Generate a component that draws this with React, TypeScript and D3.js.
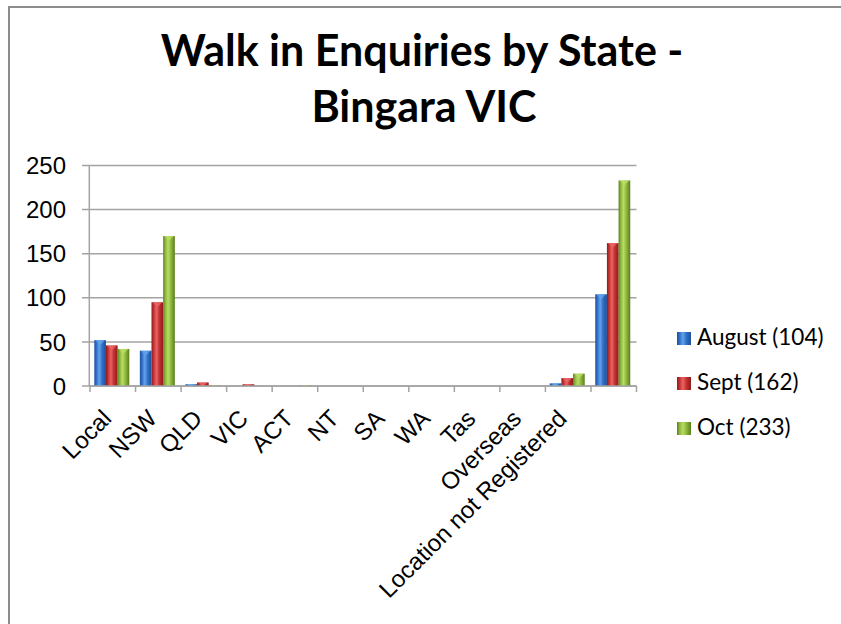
import React from 'react'
import * as d3 from 'd3'

// category labels (last group is the unlabeled totals column)
const categories = ['Local', 'NSW', 'QLD', 'VIC', 'ACT', 'NT', 'SA', 'WA', 'Tas', 'Overseas', 'Location not Registered', '']
const august = [52, 40, 2, 0, 0, 0, 0, 0, 0, 0, 3, 104]
const sept = [46, 95, 4, 2, 0, 0, 0, 0, 0, 0, 9, 162]
const oct = [42, 170, 1, 0, 1, 0, 0, 0, 0, 0, 14, 233]
const seriesNames = ['August (104)', 'Sept (162)', 'Oct (233)']
const yTicks = [0, 50, 100, 150, 200, 250]

const W = 841
const H = 624

// dark edge, base, highlight
const palettes = [
  ['#1d4f9c', '#2f6fc6', '#63a2ea'],
  ['#8c1c1c', '#c42f2f', '#e86464'],
  ['#5b7d1f', '#8cb63c', '#b8dc64'],
]

const App = () => {
  const series = [august, sept, oct]
  const idx = categories.map((_, i) => i)

  const x = d3.scaleBand<number>().domain(idx).range([90, 636.5])
  const x1 = d3.scaleBand<number>().domain([0, 1, 2]).range([4.3, 39.3])
  const y = d3.scaleLinear().domain([0, 250]).range([386, 165.5])

  const axisFont = '"Liberation Sans", Arial, sans-serif'
  const gridColor = '#a3a3a3'

  return (
    <div style={{ position: 'absolute', left: 0, top: 0, background: '#fff' }}>
      <svg width={W} height={H} style={{ display: 'block' }}>
        <defs>
          {palettes.map((p, i) => (
            <linearGradient key={i} id={`grad${i}`} x1="0" x2="1" y1="0" y2="0">
              <stop offset="0%" stopColor={p[0]} />
              <stop offset="18%" stopColor={p[1]} />
              <stop offset="42%" stopColor={p[2]} />
              <stop offset="68%" stopColor={p[1]} />
              <stop offset="100%" stopColor={p[0]} />
            </linearGradient>
          ))}
        </defs>
        <rect x={0} y={0} width={W} height={H} fill="#fff" />

        {/* chart frame */}
        <path d={`M9,${H}V7H${W}`} fill="none" stroke="#8c8c8c" strokeWidth={2} />

        {/* title */}
        <text
          textAnchor="middle"
          fontFamily="Lato, 'Open Sans', sans-serif"
          fontWeight="bold"
          fontSize={43}
          fill="#000"
        >
          <tspan x={422} y={66}>Walk in Enquiries by State -</tspan>
          <tspan x={424} y={122}>Bingara VIC</tspan>
        </text>

        {/* gridlines + y axis */}
        {yTicks.map((t) => (
          <g key={t}>
            <line x1={82} x2={636.5} y1={y(t)} y2={y(t)} stroke={gridColor} strokeWidth={1.5} />
            <text
              x={66}
              y={y(t)}
              dy="0.36em"
              textAnchor="end"
              fontFamily={axisFont}
              fontSize={24}
              fill="#000"
            >
              {t}
            </text>
          </g>
        ))}
        <line x1={89.3} x2={89.3} y1={y(250)} y2={y(0)} stroke={gridColor} strokeWidth={1.5} />

        {/* bars */}
        {series.map((vals, s) =>
          vals.map((v, i) => {
            const bx = (x(i) as number) + (x1(s) as number)
            const bw = x1.bandwidth()
            const top = y(v)
            const h = y(0) - top
            if (h <= 0) return null
            const cap = Math.min(5, h)
            return (
              <g key={`${s}-${i}`}>
                <rect x={bx} y={top} width={bw} height={h} fill={`url(#grad${s})`} />
                <path
                  d={`M${bx + 1},${top}H${bx + bw - 1}L${bx + bw / 2},${top + cap}Z`}
                  fill={palettes[s][2]}
                  opacity={0.8}
                />
              </g>
            )
          })
        )}

        {/* x axis */}
        <line x1={89.3} x2={636.5} y1={y(0)} y2={y(0)} stroke={gridColor} strokeWidth={1.5} />
        {[...idx, categories.length].map((i) => {
          const tx = i < categories.length ? (x(i) as number) : 636.5
          return <line key={i} x1={tx} x2={tx} y1={y(0)} y2={y(0) + 6} stroke={gridColor} strokeWidth={1.5} />
        })}
        {categories.map((c, i) => (
          <text
            key={i}
            transform={`translate(${(x(i) as number) + x.bandwidth() / 2},420) rotate(-45)`}
            textAnchor="end"
            fontFamily={axisFont}
            fontSize={24}
            fill="#000"
          >
            {c}
          </text>
        ))}

        {/* legend */}
        {seriesNames.map((n, s) => {
          const by = 345 + s * 45
          return (
            <g key={n}>
              <rect x={677} y={by - 13} width={14} height={13} fill={`url(#grad${s})`} />
              <text x={697} y={by} fontFamily="Lato, sans-serif" fontSize={22.5} fill="#000">
                {n}
              </text>
            </g>
          )
        })}
      </svg>
    </div>
  )
}

export default App
